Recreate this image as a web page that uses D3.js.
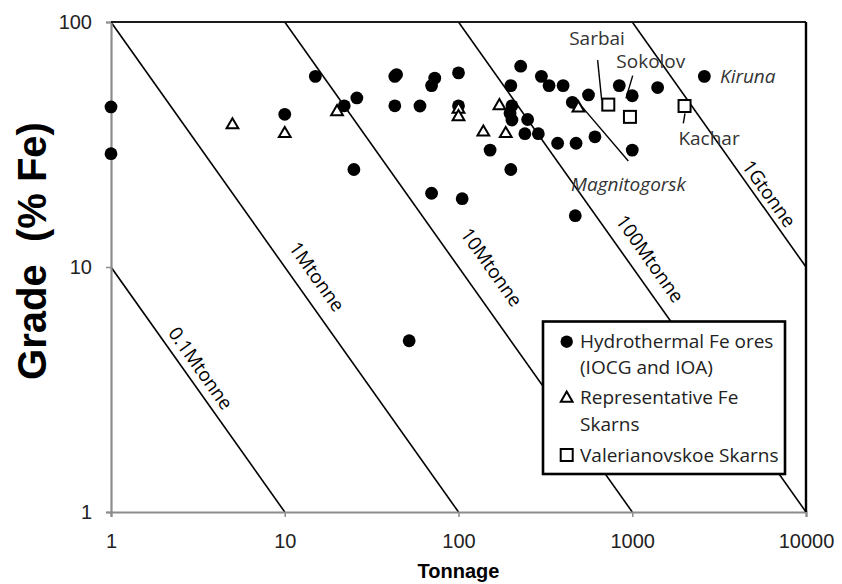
<!DOCTYPE html>
<html>
<head>
<meta charset="utf-8">
<script src="https://cdn.jsdelivr.net/npm/d3@7"></script>
<style>
  html, body { margin: 0; padding: 0; background: #fff; }
  svg { display: block; }
</style>
</head>
<body>
<script>
// ---------------- DATA ----------------
// Hydrothermal Fe ores (IOCG and IOA): tonnage (Mt), grade (% Fe)
const hydroTonnage = [1, 1, 10, 15, 22, 26, 25, 43, 44, 43, 60, 73, 70, 100, 100, 70, 105,
  228, 200, 203, 198, 203, 250, 152, 200, 241, 288, 300, 332, 400, 560, 452, 372, 475, 610,
  842, 1000, 1400, 2600, 1000, 470, 52];
const hydroGrade = [45, 29, 42, 60, 45.5, 49, 25, 60, 61, 45.5, 45.4, 59, 55, 62, 45.5, 20, 19,
  66, 55, 45.5, 42.4, 39.8, 40, 30, 25, 35, 35, 60, 55, 55, 50.4, 47, 32, 32, 34,
  55, 50, 54, 60, 30, 16.2, 5];
// Representative Fe Skarns
const skarnTonnage = [5, 10, 20, 100, 100, 172, 139, 187, 490];
const skarnGrade = [38, 35, 43, 44, 41, 45.5, 35.5, 35, 44.5];
// Valerianovskoe Skarns (Sarbai, Sokolov, Kachar)
const valerTonnage = [728, 970, 2000];
const valerGrade = [46, 41, 45.4];

// Axis ticks
const xTicks = [1, 10, 100, 1000, 10000];
const yTicks = [1, 10, 100];

// Iso-tonnage (contained metal, Mt) lines and their labels
const metalLines = [0.1, 1, 10, 100, 1000];
const metalLabels = ["0.1Mtonne", "1Mtonne", "10Mtonne", "100Mtonne", "1Gtonne"];
const metalLabelTonnage = [3.28, 15.3, 155, 1265, 6124];
const metalLabelGrade = [3.86, 9.13, 9.97, 10.8, 19.9];

// Deposit name annotations
const annoNames = ["Sarbai", "Sokolov", "Kiruna", "Kachar", "Magnitogorsk"];
const annoTonnage = [627, 1279, 3199, 2766, 951];
const annoGrade = [86, 69.3, 60.2, 33.6, 21.8];
const annoItalic = [false, false, true, false, true];
const annoAnchor = ["middle", "middle", "start", "middle", "middle"];
// leader lines: [t1, g1, t2, g2]
const leaderLines = [
  [632, 69.9, 667, 48.0],
  [1006, 60.4, 920, 48.8],
  [2012, 42.4, 1967, 38.6],
  [489, 47.0, 949, 27.1]
];

const legendLabels = [["Hydrothermal Fe ores", "(IOCG and IOA)"], ["Representative Fe", "Skarns"], ["Valerianovskoe Skarns"]];

// ---------------- CHART ----------------
(function () {
const W = 842, H = 584;
const svg = d3.select("body").append("svg").attr("width", W).attr("height", H)
  .style("font-family", "'Liberation Sans', Arial, sans-serif");

const pL = 111, pR = 806, pT = 22, pB = 512;
const x = d3.scaleLog().domain([1, 10000]).range([pL, pR]);
const y = d3.scaleLog().domain([1, 100]).range([pB, pT]);

const labelFont = "'Open Sans', sans-serif";

svg.append("defs").append("clipPath").attr("id", "plotclip")
  .append("rect").attr("x", pL).attr("y", pT).attr("width", pR - pL).attr("height", pB - pT);

// Iso-tonnage lines
const lineG = svg.append("g").attr("clip-path", "url(#plotclip)");
metalLines.forEach((m) => {
  const t0 = Math.max(1, m), t1 = Math.min(10000, 100 * m);
  lineG.append("line")
    .attr("x1", x(t0)).attr("y1", y(100 * m / t0))
    .attr("x2", x(t1)).attr("y2", y(100 * m / t1))
    .attr("stroke", "#000").attr("stroke-width", 1.6);
});
const angle = Math.atan2(y(1) - y(10), x(10) - x(1)) * 180 / Math.PI;
metalLabels.forEach((lab, i) => {
  const px = x(metalLabelTonnage[i]), py = y(metalLabelGrade[i]);
  svg.append("text")
    .attr("transform", `translate(${px},${py}) rotate(${angle})`)
    .attr("text-anchor", "middle").attr("dy", "0.35em")
    .style("font-family", labelFont).style("font-size", "19px").attr("fill", "#000")
    .text(lab);
});

// Axes
const xAxis = d3.axisBottom(x).tickValues(xTicks).tickFormat(d3.format("d")).tickSize(5).tickPadding(17);
const yAxis = d3.axisLeft(y).tickValues(yTicks).tickFormat(d3.format("d")).tickSize(5).tickPadding(14);
const gx = svg.append("g").attr("transform", `translate(0,${pB})`).call(xAxis);
const gy = svg.append("g").attr("transform", `translate(${pL},0)`).call(yAxis);
[gx, gy].forEach(g => {
  g.select(".domain").attr("stroke", "#8c8c8c").attr("stroke-width", 2.2);
  g.selectAll(".tick line").attr("stroke", "#8c8c8c").attr("stroke-width", 1.5);
  g.selectAll(".tick text").style("font-size", "20px").attr("fill", "#222")
    .style("font-family", "'Liberation Sans', Arial, sans-serif");
});
svg.append("line").attr("x1", pL).attr("x2", pR).attr("y1", pT).attr("y2", pT)
  .attr("stroke", "#1a1a1a").attr("stroke-width", 2.2);
svg.append("line").attr("x1", pR).attr("x2", pR).attr("y1", pT).attr("y2", pB)
  .attr("stroke", "#000").attr("stroke-width", 2.4);

// Axis titles
svg.append("text").attr("x", (pL + pR) / 2).attr("y", 578)
  .attr("text-anchor", "middle").style("font-weight", "bold").style("font-size", "20px")
  .text("Tonnage");
svg.append("text")
  .attr("transform", `translate(46,251) rotate(-90)`)
  .attr("text-anchor", "middle").style("font-weight", "bold").style("font-size", "40px")
  .style("white-space", "pre")
  .text("Grade  (% Fe)");

// Leader lines
leaderLines.forEach(l => {
  svg.append("line").attr("x1", x(l[0])).attr("y1", y(l[1])).attr("x2", x(l[2])).attr("y2", y(l[3]))
    .attr("stroke", "#000").attr("stroke-width", 1.4);
});

// Points
const triSym = d3.symbol().type(d3.symbolTriangle).size(60);
svg.append("g").selectAll("circle").data(d3.range(hydroTonnage.length)).join("circle")
  .attr("cx", i => x(hydroTonnage[i])).attr("cy", i => y(hydroGrade[i]))
  .attr("r", 6.4).attr("fill", "#000");
svg.append("g").selectAll("path").data(d3.range(skarnTonnage.length)).join("path")
  .attr("transform", i => `translate(${x(skarnTonnage[i])},${y(skarnGrade[i])})`)
  .attr("d", triSym).attr("fill", "#fff").attr("stroke", "#000").attr("stroke-width", 2);
svg.append("g").selectAll("rect").data(d3.range(valerTonnage.length)).join("rect")
  .attr("x", i => x(valerTonnage[i]) - 6).attr("y", i => y(valerGrade[i]) - 6)
  .attr("width", 12).attr("height", 12).attr("fill", "#fff").attr("stroke", "#000").attr("stroke-width", 2);

// Annotations
annoNames.forEach((n, i) => {
  svg.append("text").attr("x", x(annoTonnage[i])).attr("y", y(annoGrade[i])).attr("dy", "0.35em")
    .attr("text-anchor", annoAnchor[i])
    .style("font-family", labelFont).style("font-size", "19px")
    .style("font-style", annoItalic[i] ? "italic" : "normal")
    .attr("fill", "#333").text(n);
});

// Legend
const lg = svg.append("g");
lg.append("rect").attr("x", 543).attr("y", 321.5).attr("width", 242).attr("height", 152.5)
  .attr("fill", "#fff").attr("stroke", "#000").attr("stroke-width", 2.6);
const rows = [[341.7, 367.3], [397.3, 424], [455]];
const markX = 566.7, textX = 580;
lg.append("circle").attr("cx", markX).attr("cy", rows[0][0]).attr("r", 6.2).attr("fill", "#000");
lg.append("path").attr("transform", `translate(${markX},${rows[1][0] + 1})`).attr("d", triSym)
  .attr("fill", "#fff").attr("stroke", "#000").attr("stroke-width", 2);
lg.append("rect").attr("x", markX - 6).attr("y", rows[2][0] - 6).attr("width", 12).attr("height", 12)
  .attr("fill", "#fff").attr("stroke", "#000").attr("stroke-width", 2);
legendLabels.forEach((lines, i) => {
  lines.forEach((t, j) => {
    lg.append("text").attr("x", textX).attr("y", rows[i][j]).attr("dy", "0.35em")
      .style("font-family", labelFont).style("font-size", "19px").attr("fill", "#222").text(t);
  });
});
})();
</script>
</body>
</html>
